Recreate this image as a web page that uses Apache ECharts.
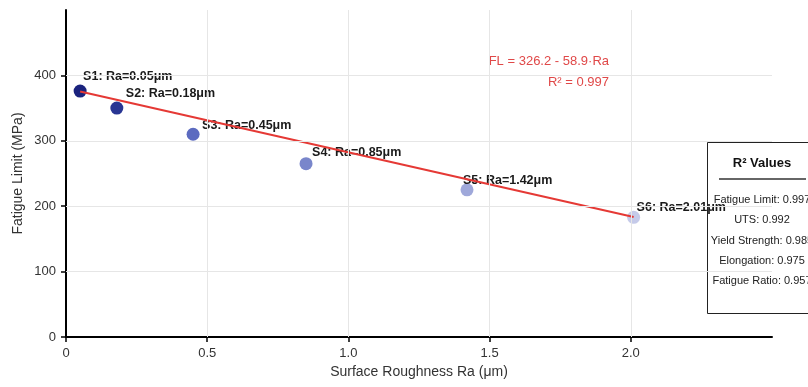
<!DOCTYPE html>
<html>
<head>
<meta charset="utf-8">
<script src="https://cdn.jsdelivr.net/npm/echarts@6/dist/echarts.min.js"></script>
<style>html,body{margin:0;padding:0;background:#fff;}#c{width:808px;height:387px;}</style>
</head>
<body>
<div id="c"></div>
<script>
// ---- data ----
const samples = ['S1', 'S2', 'S3', 'S4', 'S5', 'S6'];
const roughness = [0.05, 0.18, 0.45, 0.85, 1.42, 2.01];
const fatigueLimit = [376, 350, 310, 265, 225, 183];
const fitX = [0.05, 2.01];
const fitY = [375.5, 183.5];
const xTicks = [0, 0.5, 1.0, 1.5, 2.0];
const yTicks = [0, 100, 200, 300, 400];
const equationText = 'FL = 326.2 - 58.9·Ra';
const equationR2 = 'R² = 0.997';
const r2Names = ['Fatigue Limit', 'UTS', 'Yield Strength', 'Elongation', 'Fatigue Ratio'];
const r2Values = [0.997, 0.992, 0.985, 0.975, 0.957];

// ---- style ----
const pointColors = ['#1a237e', '#283593', '#5c6bc0', '#7986cb', '#9fa8da', '#c5cae9'];
const labelOffsets = [[3, -15], [9, -15], [9, -9], [6, -11], [-4, -9], [3, -10]];
const FONT = 'Liberation Sans, Arial, Helvetica, sans-serif';

const chart = echarts.init(document.getElementById('c'), null, {renderer: 'canvas'});

const scatterData = roughness.map((x, i) => ({
  value: [x, fatigueLimit[i]],
  itemStyle: {color: pointColors[i], opacity: 1},
  label: {
    show: true,
    formatter: samples[i] + ': Ra=' + x.toFixed(2) + 'μm',
    position: 'inside',
    align: 'left',
    verticalAlign: 'middle',
    offset: labelOffsets[i],
    color: '#1a1a1a',
    textBorderWidth: 0,
    textBorderColor: 'transparent',
    fontSize: 12.5,
    fontWeight: 'bold',
    fontFamily: FONT
  }
}));

const r2Graphics = [];
const boxLeft = 707, boxTop = 142, boxW = 112, boxH = 171, cx = 762;
r2Graphics.push({type: 'rect', left: boxLeft, top: boxTop, z: 1, shape: {width: boxW, height: boxH},
  style: {fill: '#fff', stroke: '#222', lineWidth: 1}});
r2Graphics.push({type: 'text', x: cx, y: 163, z: 1,
  style: {text: 'R² Values', font: 'bold 13px ' + FONT, fill: '#111', textAlign: 'center', textVerticalAlign: 'middle'}});
r2Graphics.push({type: 'line', z: 1, shape: {x1: 719, y1: 179, x2: 806, y2: 179}, style: {stroke: '#666', lineWidth: 2}});
r2Names.forEach((n, i) => {
  r2Graphics.push({type: 'text', x: cx, y: 200 + i * 20.3, z: 1,
    style: {text: n + ': ' + r2Values[i].toFixed(3), font: '11px ' + FONT, fill: '#222', textAlign: 'center', textVerticalAlign: 'middle'}});
});
r2Graphics.push({type: 'text', x: 609, y: 61, z: 1,
  style: {text: equationText, font: '13px ' + FONT, fill: '#e04848', textAlign: 'right', textVerticalAlign: 'middle'}});
r2Graphics.push({type: 'text', x: 609, y: 82, z: 1,
  style: {text: equationR2, font: '13px ' + FONT, fill: '#e04848', textAlign: 'right', textVerticalAlign: 'middle'}});

const option = {
  backgroundColor: '#fff',
  animation: false,
  textStyle: {fontFamily: FONT},
  grid: {left: 66, right: 36, top: 10, bottom: 50},
  xAxis: {
    type: 'value', min: 0, max: 2.5, interval: 0.5,
    name: 'Surface Roughness Ra (μm)', nameLocation: 'middle', nameGap: 28, nameMoveOverlap: false,
    nameTextStyle: {fontSize: 14, color: '#333', fontFamily: FONT},
    axisLine: {show: true, onZero: false, lineStyle: {color: '#000', width: 2}},
    axisTick: {show: true, length: 5, customValues: xTicks, lineStyle: {color: '#000', width: 1.5}},
    axisLabel: {customValues: xTicks, fontSize: 13, color: '#333', margin: 10, fontFamily: FONT,
      formatter: v => v === 0 ? '0' : v.toFixed(1)},
    splitLine: {show: false}
  },
  yAxis: {
    type: 'value', min: 0, max: 500, interval: 100,
    name: 'Fatigue Limit (MPa)', nameLocation: 'middle', nameGap: 41, nameMoveOverlap: false,
    nameTextStyle: {fontSize: 14, color: '#333', fontFamily: FONT},
    axisLine: {show: true, onZero: false, lineStyle: {color: '#000', width: 2}},
    axisTick: {show: true, length: 5, customValues: yTicks, lineStyle: {color: '#000', width: 1.5}},
    axisLabel: {customValues: yTicks, fontSize: 13, color: '#333', margin: 10, fontFamily: FONT},
    splitLine: {show: false}
  },
  series: [
    {
      type: 'line', z: 0, silent: true, symbol: 'none', data: [],
      lineStyle: {opacity: 0},
      markLine: {
        silent: true, symbol: 'none', label: {show: false},
        lineStyle: {color: '#e6e6e6', width: 1, type: 'solid'},
        data: xTicks.filter(v => v > 0).map(v => ({xAxis: v})).concat(yTicks.filter(v => v > 0).map(v => ({yAxis: v})))
      }
    },
    {
      type: 'scatter', z: 2, symbolSize: 13, data: scatterData,
      itemStyle: {opacity: 1},
      emphasis: {disabled: true}
    },
    {
      type: 'line', z: 3, symbol: 'none', data: fitX.map((x, i) => [x, fitY[i]]),
      lineStyle: {color: '#e53935', width: 2}
    }
  ],
  graphic: r2Graphics
};
chart.setOption(option);
</script>
</body>
</html>
